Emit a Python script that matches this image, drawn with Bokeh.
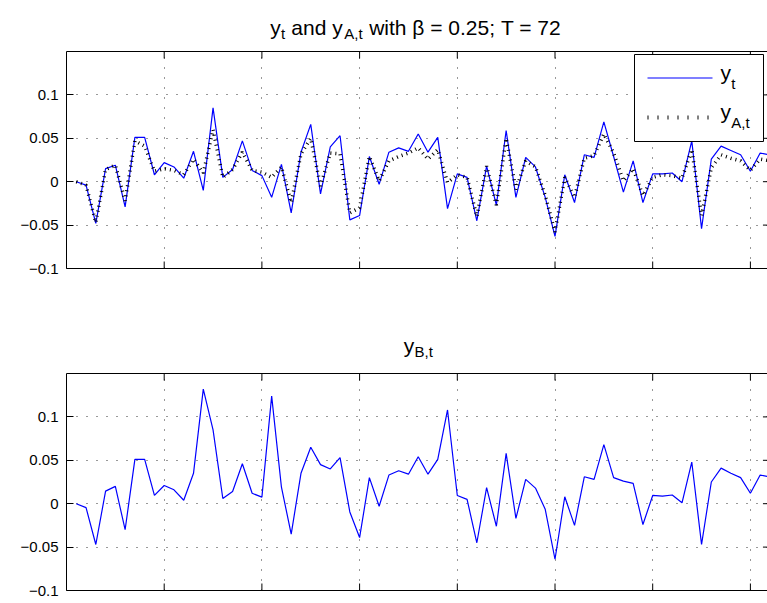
from bokeh.plotting import figure
from bokeh.models import Range1d, FixedTicker, LinearAxis
from bokeh.core.properties import value
from bokeh.layouts import column
from bokeh.embed import file_html
from bokeh.resources import INLINE

# ---- data -----------------------------------------------------------------
t = list(range(1, 73))

y_t = [0.000, -0.004, -0.048, 0.015, 0.019, -0.029, 0.051, 0.051, 0.008, 0.022,
       0.017, 0.004, 0.035, -0.010, 0.085, 0.005, 0.014, 0.047, 0.013, 0.007,
       -0.018, 0.020, -0.036, 0.034, 0.066, -0.014, 0.040, 0.053, -0.044, -0.039,
       0.029, -0.003, 0.034, 0.039, 0.035, 0.055, 0.034, 0.051, -0.031, 0.009,
       0.005, -0.045, 0.018, -0.027, 0.059, -0.018, 0.028, 0.017, -0.018, -0.063,
       0.008, -0.024, 0.031, 0.028, 0.069, 0.029, -0.012, 0.024, -0.024, 0.009,
       0.009, 0.010, 0.000, 0.047, -0.054, 0.026, 0.041, 0.036, 0.031, 0.012,
       0.033, 0.031]

y_A = [0.000, -0.004, -0.047, 0.014, 0.019, -0.022, 0.047, 0.041, 0.012, 0.015,
       0.013, 0.008, 0.026, 0.010, 0.060, 0.005, 0.014, 0.034, 0.013, 0.011,
       0.005, 0.017, -0.024, 0.032, 0.050, -0.005, 0.033, 0.032, -0.036, -0.030,
       0.029, 0.001, 0.024, 0.029, 0.033, 0.039, 0.026, 0.037, -0.001, 0.008,
       0.005, -0.040, 0.018, -0.027, 0.050, -0.009, 0.024, 0.017, -0.016, -0.058,
       0.005, -0.018, 0.027, 0.030, 0.055, 0.033, 0.001, 0.015, -0.016, 0.005,
       0.008, 0.007, 0.004, 0.037, -0.039, 0.016, 0.031, 0.027, 0.024, 0.013,
       0.026, 0.024]

y_B = [0.000, -0.0045, -0.047, 0.0145, 0.020, -0.030, 0.051, 0.051, 0.0095, 0.021,
       0.016, 0.004, 0.035, 0.132, 0.085, 0.006, 0.014, 0.046, 0.012, 0.0076,
       0.124, 0.019, -0.035, 0.035, 0.065, 0.045, 0.040, 0.053, -0.0095, -0.039,
       0.030, -0.003, 0.033, 0.038, 0.034, 0.054, 0.034, 0.051, 0.108, 0.0095,
       0.005, -0.045, 0.0185, -0.026, 0.058, -0.017, 0.028, 0.018, -0.0065, -0.064,
       0.008, -0.025, 0.031, 0.028, 0.068, 0.030, 0.026, 0.0235, -0.024, 0.0095,
       0.0087, 0.010, 0.001, 0.048, -0.047, 0.025, 0.041, 0.035, 0.030, 0.012,
       0.033, 0.031]

y_ticks = [-0.1, -0.05, 0, 0.05, 0.1]
y_tick_labels = ["\u22120.1", "\u22120.05", "0", "0.05", "0.1"]
x_ticks = [10, 20, 30, 40, 50, 60, 70]

# ---- geometry / styling -----------------------------------------------------
FONT = "Liberation Sans"
BLUE = "#0000ff"
WIDTH = 767
LEFT = 66                 # pixels left of the axes box
FRAME_W = WIDTH - LEFT    # axes box runs off the right edge of the page
FRAME_H = 217
X0, X1 = 0, 71.75
Y0, Y1 = -0.1, 0.15
TICK_PX = 7
BASE_FIX = 8              # lift applied to alphabetic baselines
TITLE_PX, SUB_PX = 21, 15

SOLID = dict(line_color=BLUE, line_width=1.2)
DOT = dict(line_color="black", line_width=3.5, line_dash="1 4",
           line_cap="butt")
DOT_KEY = dict(line_color="black", line_width=4, line_dash="1 9",
               line_cap="butt")

# Helvetica/Arial advance widths (per 1000 em) for laying out mixed text
ADV = {" ": 278, "a": 556, "n": 556, "d": 556, "y": 500, "w": 722, "i": 222,
       "t": 278, "h": 556, "\u03b2": 575, "=": 584, ".": 278, ";": 278,
       "T": 611, "A": 667, "B": 667, ",": 278}


def text_width(s, size):
    return sum(ADV.get(c, 556) for c in s) * size / 1000.0 * 1.03


def rich_text(p, pieces, x0, base_y, to_data, center=True, sub_drop=6):
    """Draw runs of normal / subscript text.  x0, base_y are page pixels
    (y downward); to_data maps a page pixel pair into the figure's data."""
    widths = [text_width(s, SUB_PX if sub else TITLE_PX) for s, sub in pieces]
    x = x0 - sum(widths) / 2.0 if center else x0
    for (s, sub), w in zip(pieces, widths):
        fs = SUB_PX if sub else TITLE_PX
        lead = text_width(" " * (len(s) - len(s.lstrip(" "))), fs)
        dx, dy = to_data(x + lead, base_y + (sub_drop if sub else 0) - BASE_FIX)
        p.text(x=[dx], y=[dy], text=[s.strip(" ")],
               text_font=value(FONT), text_font_size=f"{fs}px",
               text_color="black", text_align="left",
               text_baseline="alphabetic")
        x += w


def title_strip(top, height, pieces, baseline):
    f = figure(width=WIDTH, height=height, output_backend="svg",
               toolbar_location=None, title=None,
               x_range=Range1d(LEFT, WIDTH), y_range=Range1d(0, height),
               x_axis_location=None, y_axis_location=None,
               min_border_left=LEFT, min_border_right=0,
               min_border_top=0, min_border_bottom=0)
    f.outline_line_color = None
    f.xgrid.visible = False
    f.ygrid.visible = False
    rich_text(f, pieces, LEFT + (FRAME_W + 3) / 2.0, baseline,
              lambda cx, cy: (cx, top + height - cy))
    return f


def make_axes(top, border_bottom):
    height = 1 + FRAME_H + border_bottom
    p = figure(width=WIDTH, height=height, output_backend="svg",
               toolbar_location=None, title=None,
               x_range=Range1d(X0, X1), y_range=Range1d(Y0, Y1),
               x_axis_location=None, y_axis_location=None,
               min_border_left=LEFT, min_border_right=0,
               min_border_top=1, min_border_bottom=border_bottom)
    p.outline_line_color = None

    left = LinearAxis(ticker=FixedTicker(ticks=y_ticks),
                      major_label_overrides=dict(zip(y_ticks, y_tick_labels)))
    left.major_label_text_font = FONT
    left.major_label_text_font_size = "15px"
    left.major_label_text_color = "black"
    left.major_label_standoff = 8
    left.major_tick_in = TICK_PX
    left.major_tick_out = 0
    left.minor_tick_line_color = None
    left.axis_line_color = "black"
    p.add_layout(left, "left")

    # plain box lines above and below the data area
    for place in ("below", "above"):
        ax = LinearAxis(ticker=FixedTicker(ticks=[]))
        ax.major_tick_out = 0
        ax.major_tick_in = 0
        ax.minor_tick_line_color = None
        ax.major_label_standoff = 0
        ax.axis_line_color = "black"
        p.add_layout(ax, place)

    p.xgrid.ticker = FixedTicker(ticks=x_ticks)
    p.ygrid.ticker = FixedTicker(ticks=y_ticks)
    for g in (p.xgrid, p.ygrid):
        g.grid_line_color = "black"
        g.grid_line_alpha = 0.8
        g.grid_line_dash = "1 9"
        g.grid_line_width = 1

    # inward tick marks on the top, bottom and right sides of the box
    dy = TICK_PX * (Y1 - Y0) / FRAME_H
    dx = TICK_PX * (X1 - X0) / FRAME_W
    n = len(x_ticks)
    p.segment(x0=x_ticks, y0=[Y0] * n, x1=x_ticks, y1=[Y0 + dy] * n,
              line_color="black", line_width=1)
    p.segment(x0=x_ticks, y0=[Y1] * n, x1=x_ticks, y1=[Y1 - dy] * n,
              line_color="black", line_width=1)
    right_edge = 72
    m = len(y_ticks)
    p.segment(x0=[right_edge] * m, y0=y_ticks, x1=[right_edge - dx] * m,
              y1=y_ticks, line_color="black", line_width=1)

    frame_top = top + 1

    def to_data(cx, cy):
        return (X0 + (cx - LEFT) * (X1 - X0) / FRAME_W,
                Y0 + (frame_top + FRAME_H - cy) * (Y1 - Y0) / FRAME_H)
    return p, to_data


# ---- upper panel: y_t and y_A,t ---------------------------------------------
head1 = title_strip(0, 50, [("y", False), ("t", True), (" and y", False),
                            ("A,t", True),
                            (" with \u03b2 = 0.25; T = 72", False)], 35)

p1, px1 = make_axes(50, 32)
p1.line(t, y_t, **SOLID)
p1.line(t, y_A, **DOT)

# legend box with its two entries (page pixel layout)
lx0, ly0 = px1(634, 54)
lx1, ly1 = px1(763, 141)
p1.quad(left=[lx0], right=[lx1], top=[ly0], bottom=[ly1], fill_color="white",
        line_color="black", line_width=1)
for row_y, style, sub in ((77.5, SOLID, "t"), (117, DOT_KEY, "A,t")):
    kx0, ky = px1(647, row_y)
    kx1, _ = px1(712, row_y)
    p1.line(x=[kx0, kx1], y=[ky, ky], **style)
    rich_text(p1, [("y", False), (sub, True)], 720, row_y + 2, px1,
              center=False, sub_drop=11)

# ---- lower panel: y_B,t -----------------------------------------------------
head2 = title_strip(300, 72, [("y", False), ("B,t", True)], 353)
p2, px2 = make_axes(372, 13)
p2.line(t, y_B, **SOLID)

layout = column(head1, p1, head2, p2, spacing=0)
open("out.html", "w").write(file_html(layout, INLINE))
